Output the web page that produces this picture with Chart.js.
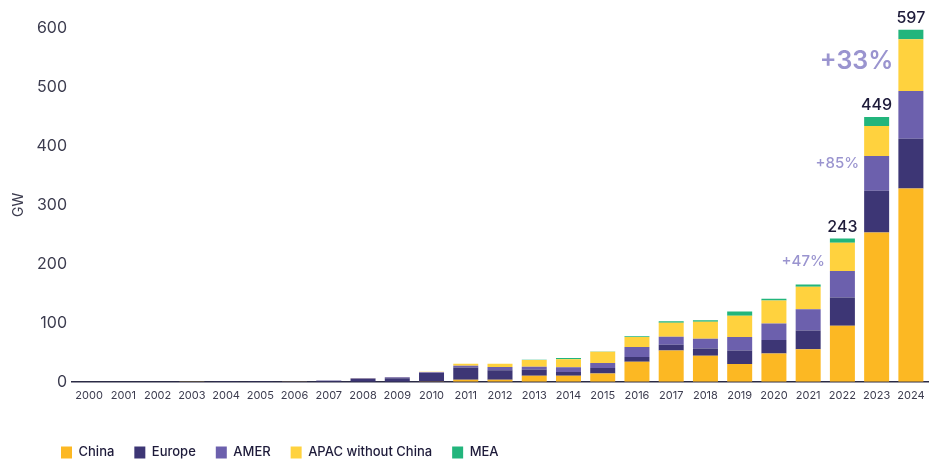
<!DOCTYPE html>
<html>
<head>
<meta charset="utf-8">
<script src="https://cdn.jsdelivr.net/npm/chart.js@4.4.1/dist/chart.umd.min.js"></script>
<style>
	html, body { margin: 0; padding: 0; background: #fff; }
	#wrap { width: 944px; height: 459px; }
</style>
</head>
<body>
<div id="wrap"><canvas id="chart"></canvas></div>
<script>
const years = ['2000', '2001', '2002', '2003', '2004', '2005', '2006', '2007', '2008', '2009', '2010', '2011', '2012',
	'2013', '2014', '2015', '2016', '2017', '2018', '2019', '2020', '2021', '2022', '2023', '2024']
const china = [0, 0, 0, 0, 0, 0, 0, 0.1, 0.1, 0.2, 0.5, 3.4, 3.4, 10.2, 10.2, 14, 34, 53, 44, 30, 48, 55, 95, 253, 328]
const europe = [0.1, 0.1, 0.1, 0.2, 0.3, 0.4, 0.5, 1.6, 5, 6, 14.5, 21, 16, 10.8, 6.3, 9.5, 8, 9.7, 12.5, 23, 23, 32, 48, 71, 84]
const amer = [0, 0, 0, 0, 0, 0, 0.1, 0.3, 0.8, 1.5, 1, 2.8, 5.7, 4.6, 8, 8.5, 17, 13.6, 16.5, 23, 28, 36, 45, 59, 81]
const apac = [0.1, 0.1, 0.1, 0.1, 0.2, 0.2, 0.2, 0.3, 0.4, 0.5, 1, 3.4, 5.7, 11.4, 13.6, 18.8, 17, 24, 29, 36, 39, 38, 48, 51, 88]
const mea = [0, 0, 0, 0, 0, 0, 0, 0, 0, 0, 0, 0, 0, 0.3, 2.3, 0.5, 1.2, 2.3, 2.3, 7.4, 2.8, 4, 7, 15, 16]
const yTicks = [0, 100, 200, 300, 400, 500, 600]
const markedYears = ['2022', '2023', '2024']

const series = {
	"China": [china, '#fcb823'],
	"Europe": [europe, '#3d3675'],
	"AMER": [amer, '#6c60ad'],
	"APAC without China": [apac, '#ffd23e'],
	"MEA": [mea, '#22b57c']
}

const FONT = 'Inter, "Noto Sans", sans-serif'
const INK = '#1e1b3a'

// sizes / offsets for the growth labels (px below the stack top)
const growthStyle = {
	'2022': { size: 15, weight: 500, drop: 23 },
	'2023': { size: 15, weight: 500, drop: 46 },
	'2024': { size: 25, weight: 600, drop: 32 }
}

function total(i) {
	let s = 0
	for (let name in series) s += series[name][0][i]
	return s
}

const annotate = {
	id: 'annotate',
	afterDatasetsDraw(chart) {
		const { ctx, scales: { y } } = chart
		const meta = chart.getDatasetMeta(0)
		ctx.save()
		for (let year of markedYears) {
			const i = years.indexOf(year)
			const bar = meta.data[i]
			const t = total(i)
			const top = y.getPixelForValue(t)
			ctx.fillStyle = INK
			ctx.font = `500 16px ${FONT}`
			ctx.textAlign = 'center'
			ctx.textBaseline = 'alphabetic'
			ctx.fillText(Math.round(t), bar.x, top - 7)

			const g = Math.round((t / total(i - 1) - 1) * 100)
			const st = growthStyle[year]
			ctx.fillStyle = '#9a94cf'
			ctx.font = `${st.weight} ${st.size}px ${FONT}`
			ctx.textAlign = 'right'
			ctx.textBaseline = 'middle'
			ctx.fillText(`+${g}%`, bar.x - bar.width / 2 - 5, top + st.drop)
		}
		ctx.restore()
	}
}

// park the legend where the reference has it (the legend clips to its own box)
const legendShift = {
	id: 'legendShift',
	afterLayout(chart) {
		const lg = chart.legend
		const pad = lg.options.labels.padding
		const w = lg.width, h = lg.height
		lg.left = 61 - pad
		lg.right = lg.left + w
		lg.top = 454 - pad - 8
		lg.bottom = lg.top + h
	}
}

const datasets = []
for (let name in series) {
	datasets.push({
		label: name,
		data: series[name][0],
		backgroundColor: series[name][1],
		borderWidth: 0,
		barPercentage: 0.73,
		categoryPercentage: 1
	})
}

new Chart('chart', {
	type: 'bar',
	data: { labels: years, datasets: datasets },
	plugins: [annotate, legendShift],
	options: {
		responsive: true,
		maintainAspectRatio: false,
		animation: false,
		layout: { padding: { top: 28, right: 16, bottom: 7, left: 8 } },
		plugins: {
			legend: {
				position: 'bottom',
				align: 'start',
				labels: {
					boxWidth: 11,
					boxHeight: 12,
					padding: 20,
					color: INK,
					font: { family: FONT, size: 13, weight: 500 }
				}
			},
			tooltip: { enabled: false }
		},
		scales: {
			x: {
				stacked: true,
				grid: { display: false, drawTicks: false },
				border: { color: '#2b2b45', width: 1.5 },
				ticks: {
					color: '#3c3c4f',
					font: { family: FONT, size: 11 },
					maxRotation: 0,
					autoSkip: false,
					padding: 7
				}
			},
			y: {
				stacked: true,
				min: 0,
				max: 600,
				afterBuildTicks: axis => { axis.ticks = yTicks.map(v => ({ value: v })) },
				afterFit: axis => { axis.width = 64 },
				grid: { display: false, drawTicks: false },
				border: { display: false },
				title: {
					display: true,
					text: 'GW',
					color: '#3c3c4f',
					font: { family: FONT, size: 14 },
					padding: { top: 2, bottom: 0 }
				},
				ticks: {
					color: '#3c3c4f',
					font: { family: FONT, size: 16 },
					padding: 5
				}
			}
		}
	}
})
</script>
</body>
</html>
